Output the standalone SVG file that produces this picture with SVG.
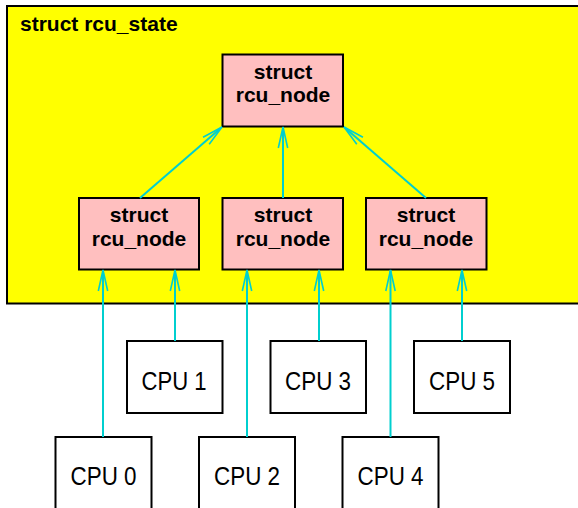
<svg xmlns="http://www.w3.org/2000/svg" width="578" height="508" viewBox="0 0 578 508">
<defs>
<style>
.state{fill:#ffff00;stroke:#000;stroke-width:2}
.rn{fill:#ffbfbf;stroke:#000;stroke-width:2}
.cpu{fill:#fff;stroke:#000;stroke-width:2}
.b{font-family:"Liberation Sans",Arial,sans-serif;font-weight:bold;font-size:21px;fill:#000}
.t{font-family:"Liberation Sans",Arial,sans-serif;font-size:25px;fill:#000;text-anchor:middle}
.c{text-anchor:middle}
.conn{stroke:#00cfcf;stroke-width:2;fill:none;marker-end:url(#ah)}
</style>
<marker id="ah" markerUnits="userSpaceOnUse" viewBox="-22 -6 24 12" refX="0" refY="0" markerWidth="24" markerHeight="12" orient="auto">
<path d="M-21,-4.7 L0,0 L-21,4.7" fill="none" stroke="#00cfcf" stroke-width="1.6"/>
</marker>
</defs>
<rect width="578" height="508" fill="#fff"/>
<g id="rcu_state">
<rect class="state" x="7" y="6" width="580" height="297.5"/>
<text class="b" x="20" y="31">struct rcu_state</text>
</g>
<g id="node_root">
<rect class="rn" x="222.5" y="54.5" width="120.5" height="72"/>
<text class="b c" x="283" y="78.5">struct</text>
<text class="b c" x="283" y="101.5">rcu_node</text>
</g>
<g id="node_left">
<rect class="rn" x="79" y="198" width="120" height="71.5"/>
<text class="b c" x="139" y="222">struct</text>
<text class="b c" x="139" y="245.5">rcu_node</text>
</g>
<g id="node_mid">
<rect class="rn" x="222.5" y="198" width="120.5" height="71.5"/>
<text class="b c" x="283" y="222">struct</text>
<text class="b c" x="283" y="245.5">rcu_node</text>
</g>
<g id="node_right">
<rect class="rn" x="366" y="198" width="120.5" height="71.5"/>
<text class="b c" x="426" y="222">struct</text>
<text class="b c" x="426" y="245.5">rcu_node</text>
</g>
<g id="cpu1"><rect class="cpu" x="127" y="341" width="95.5" height="72"/><text class="t" x="174" y="389.5" textLength="65" lengthAdjust="spacingAndGlyphs">CPU 1</text></g>
<g id="cpu3"><rect class="cpu" x="270.5" y="341" width="95.5" height="72"/><text class="t" x="318" y="389.5" textLength="66" lengthAdjust="spacingAndGlyphs">CPU 3</text></g>
<g id="cpu5"><rect class="cpu" x="414" y="341" width="96" height="72"/><text class="t" x="462" y="389.5" textLength="66" lengthAdjust="spacingAndGlyphs">CPU 5</text></g>
<g id="cpu0"><rect class="cpu" x="55.5" y="437" width="96" height="80"/><text class="t" x="103.5" y="485" textLength="66" lengthAdjust="spacingAndGlyphs">CPU 0</text></g>
<g id="cpu2"><rect class="cpu" x="199" y="437" width="96" height="80"/><text class="t" x="247" y="485" textLength="66" lengthAdjust="spacingAndGlyphs">CPU 2</text></g>
<g id="cpu4"><rect class="cpu" x="342.5" y="437" width="96" height="80"/><text class="t" x="390.5" y="485" textLength="66" lengthAdjust="spacingAndGlyphs">CPU 4</text></g>
<g id="connectors">
<line class="conn" x1="140" y1="198" x2="222" y2="127"/>
<line class="conn" x1="283" y1="198" x2="283" y2="127"/>
<line class="conn" x1="426" y1="198" x2="344" y2="127"/>
<line class="conn" x1="103" y1="437" x2="103" y2="270"/>
<line class="conn" x1="175" y1="341" x2="175" y2="270"/>
<line class="conn" x1="247" y1="437" x2="247" y2="270"/>
<line class="conn" x1="319" y1="341" x2="319" y2="270"/>
<line class="conn" x1="390.5" y1="437" x2="390.5" y2="270"/>
<line class="conn" x1="462" y1="341" x2="462" y2="270"/>
</g>
</svg>
